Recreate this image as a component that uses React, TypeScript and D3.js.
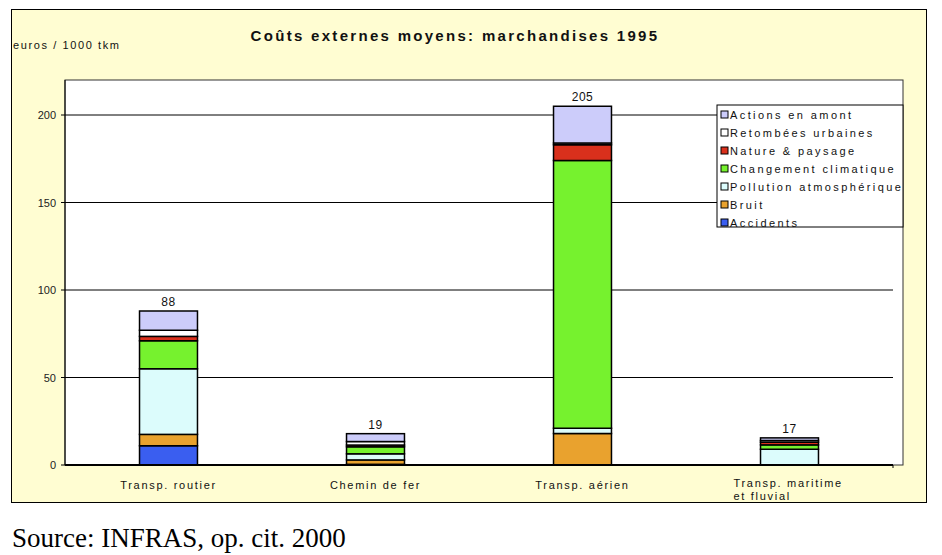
import React from "react";
import * as d3 from "d3";

const categories = ["Transp. routier", "Chemin de fer", "Transp. aérien", "Transp. maritime|et fluvial"];
const accidents = [11, 0.4, 0, 0];
const bruit = [6.5, 2.5, 18, 0];
const pollution = [37.5, 3.5, 3, 9];
const climat = [16, 4, 153, 2.5];
const nature = [2.5, 1, 9, 1.5];
const retombees = [3.5, 2, 1, 1];
const amont = [11, 4.5, 21, 1.5];
const totals = ["88", "19", "205", "17"];
const yTicks = [0, 50, 100, 150, 200];

const seriesNames = [
  "Accidents",
  "Bruit",
  "Pollution atmosphérique",
  "Changement climatique",
  "Nature & paysage",
  "Retombées urbaines",
  "Actions en amont",
];
const seriesValues = [accidents, bruit, pollution, climat, nature, retombees, amont];
const colors = ["#3A5EF0", "#E9A22E", "#DCFCFC", "#76F22E", "#D9301C", "#FFFFFF", "#CCCCFA"];

const FONT = "'Liberation Sans', Arial, sans-serif";

export default function App() {
  const W = 942, H = 555;
  const plotL = 65, plotR = 893, frameR = 903, plotT = 80, plotB = 465;
  const keys = seriesNames;
  const rows = categories.map((c, i) => {
    const r: any = { cat: c };
    keys.forEach((k, j) => (r[k] = seriesValues[j][i]));
    return r;
  });
  const stacked = d3.stack<any>().keys(keys)(rows);
  const x = d3.scaleBand<string>().domain(categories).range([plotL, plotR]).paddingInner(0.72).paddingOuter(0.36);
  const y = d3.scaleLinear().domain([0, 220]).range([plotB, plotT]);

  const legendX = 717, legendY = 105, legendW = 186, legendH = 122;
  const legendOrder = [...seriesNames].map((n, i) => ({ n, c: colors[i] })).reverse();

  return (
    <svg width={W} height={H} style={{ position: "absolute", left: 0, top: 0 }}>
      <defs>
        <clipPath id="legclip">
          <rect x={legendX} y={legendY} width={legendW} height={legendH} />
        </clipPath>
        <clipPath id="boxclip">
          <rect x={11} y={9} width={916} height={493.5} />
        </clipPath>
      </defs>
      <rect x={0} y={0} width={W} height={H} fill="#fff" />
      <rect x={11.5} y={9.5} width={915} height={493} fill="#FFFDD2" stroke="#000" strokeWidth={1} />
      <text x={455} y={41} textAnchor="middle" fontFamily={FONT} fontWeight="bold" fontSize={15} letterSpacing={2.3} fill="#111">
        Coûts externes moyens: marchandises 1995
      </text>
      <text x={13} y={49} fontFamily={FONT} fontSize={11} fill="#111" letterSpacing={1.6}>
        euros / 1000 tkm
      </text>
      {/* plot area */}
      <rect x={plotL} y={plotT} width={frameR - plotL} height={plotB - plotT} fill="#fff" stroke="#333" strokeWidth={1} />
      {yTicks.filter((t) => t > 0).map((t) => (
        <line key={t} x1={plotL} x2={plotR} y1={y(t)} y2={y(t)} stroke="#000" strokeWidth={1} />
      ))}
      {yTicks.map((t) => (
        <g key={"t" + t}>
          <line x1={plotL - 4} x2={plotL} y1={y(t)} y2={y(t)} stroke="#000" />
          <text x={plotL - 9} y={y(t) + 4} textAnchor="end" fontFamily={FONT} fontSize={11} fill="#222">
            {t}
          </text>
        </g>
      ))}
      <line x1={plotL} x2={plotL} y1={plotT} y2={plotB} stroke="#000" strokeWidth={1} />
      {/* bars */}
      {stacked.map((s, si) => (
        <g key={si}>
          {s.map((d, i) => {
            const h = y(d[0]) - y(d[1]);
            if (h <= 0.01) return null;
            return (
              <rect
                key={i}
                x={x(categories[i])!}
                y={y(d[1])}
                width={x.bandwidth()}
                height={h}
                fill={colors[si]}
                stroke="#000"
                strokeWidth={1.5}
              />
            );
          })}
        </g>
      ))}
      {categories.map((c, i) => {
        const top = stacked[stacked.length - 1][i][1];
        return (
          <text key={c} x={x(c)! + x.bandwidth() / 2} y={y(top) - 5} textAnchor="middle" fontFamily={FONT} fontSize={12} letterSpacing={0.5} fill="#111">
            {totals[i]}
          </text>
        );
      })}
      <line x1={plotL} x2={plotR} y1={plotB} y2={plotB} stroke="#000" strokeWidth={2} />
      <line x1={plotR} x2={plotR} y1={plotB} y2={plotB + 3} stroke="#000" />
      <g clipPath="url(#boxclip)">
        {categories.map((c) => {
          const lines = c.split("|");
          const cx = x(c)! + x.bandwidth() / 2;
          if (lines.length === 1) {
            return (
              <text key={c} x={cx} y={489} textAnchor="middle" fontFamily={FONT} fontSize={11} letterSpacing={1.7} fill="#111">
                {c}
              </text>
            );
          }
          const sx = cx - 56;
          return (
            <text key={c} x={sx} y={487} fontFamily={FONT} fontSize={11} letterSpacing={1.7} fill="#111">
              {lines.map((l, k) => (
                <tspan key={k} x={sx} dy={k === 0 ? 0 : 13}>
                  {l}
                </tspan>
              ))}
            </text>
          );
        })}
      </g>
      {/* legend */}
      <rect x={legendX} y={legendY} width={legendW} height={legendH} fill="#fff" stroke="#000" strokeWidth={1} />
      <g clipPath="url(#legclip)">
        {legendOrder.map((e, i) => (
          <g key={e.n}>
            <rect x={legendX + 4} y={legendY + 6 + i * 18} width={7} height={7} fill={e.c} stroke="#000" strokeWidth={1} />
            <text x={legendX + 13} y={legendY + 14 + i * 18} fontFamily={FONT} fontSize={11} letterSpacing={2.4} fill="#111">
              {e.n}
            </text>
          </g>
        ))}
      </g>
      <text x={12} y={547} fontFamily="'Liberation Serif', 'Times New Roman', serif" fontSize={27} fill="#000">
        Source: INFRAS, op. cit. 2000
      </text>
    </svg>
  );
}
